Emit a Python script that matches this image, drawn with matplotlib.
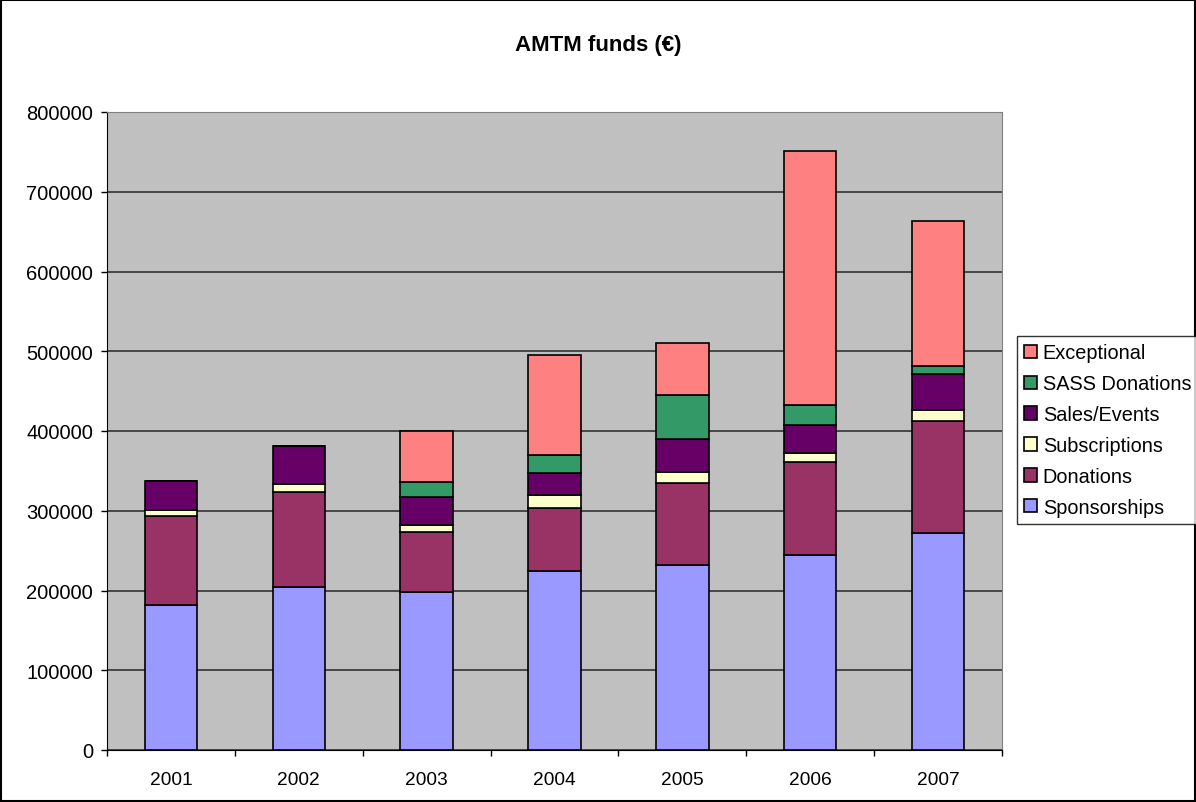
import matplotlib.pyplot as plt
import numpy as np

plt.rcParams['font.family'] = ['Liberation Sans', 'DejaVu Sans']

years = ['2001', '2002', '2003', '2004', '2005', '2006', '2007']
sponsorships = [182000, 204000, 198500, 225000, 232000, 245000, 272000]
donations = [111000, 119000, 75000, 79000, 102500, 116000, 140000]
subscriptions = [8000, 11000, 9000, 16000, 14000, 11000, 14000]
sales_events = [36000, 47000, 34500, 27000, 41000, 36000, 45500]
sass_donations = [0, 0, 19500, 23500, 55500, 25000, 10500]
exceptional = [0, 0, 63000, 125000, 65000, 318500, 181000]

series = [
    ('Sponsorships', sponsorships, '#9999FF'),
    ('Donations', donations, '#993366'),
    ('Subscriptions', subscriptions, '#FFFFCC'),
    ('Sales/Events', sales_events, '#660066'),
    ('SASS Donations', sass_donations, '#339966'),
    ('Exceptional', exceptional, '#FF8080'),
]

fig = plt.figure(figsize=(11.96, 8.03), dpi=100)
ax = fig.add_axes([107/1196, 1 - 751/803, (1002-107)/1196, (751-113)/803])
ax.set_facecolor('#C0C0C0')

x = np.arange(len(years))
bottom = np.zeros(len(years))
handles = []
for name, vals, col in series:
    vals = np.array(vals, dtype=float)
    b = ax.bar(x, vals, 0.41, bottom=bottom, color=col, edgecolor='black',
               linewidth=1.2, label=name, zorder=3)
    handles.append(b)
    bottom += vals

ax.set_xlim(-0.5, len(years) - 0.5)
ax.set_ylim(0, 800000)
ax.set_yticks(np.arange(0, 800001, 100000))
ax.set_yticklabels([str(v) for v in range(0, 800001, 100000)], fontsize=14.5)
ax.yaxis.grid(True, color='#333333', linewidth=1.2, zorder=0)
ax.set_axisbelow(True)

ax.set_xticks(x)
ax.set_xticklabels(years, fontsize=13.8)
ax.tick_params(axis='x', length=0, pad=15)
ax.set_xticks(np.arange(-0.5, len(years), 1), minor=True)
ax.tick_params(axis='x', which='minor', length=4, width=1, direction='out')
ax.tick_params(axis='y', length=4.5, width=1, direction='out', pad=5.5)

for s in ['top', 'right']:
    ax.spines[s].set_color('#808080')
ax.spines['left'].set_color('black')
ax.spines['bottom'].set_color('black')

fig.text(0.5, 1 - 46/803, 'AMTM funds (€)', ha='center', va='center',
         fontsize=16, fontweight='bold')

leg = fig.legend(handles[::-1], [s[0] for s in series][::-1],
                 loc='center left', bbox_to_anchor=(1017/1196, 1 - 431/803),
                 fontsize=14.3, frameon=True, fancybox=False, edgecolor='black',
                 handlelength=0.65, handleheight=0.65, handletextpad=0.3,
                 labelspacing=0.6, borderpad=0.35, borderaxespad=0)
leg.get_frame().set_linewidth(1)

fig.patches.append(plt.Rectangle((0.001, 0.001), 0.998, 0.998, transform=fig.transFigure,
                                 fill=False, edgecolor='black', linewidth=1.5))

fig.savefig('out.png', dpi=100, facecolor='white')
